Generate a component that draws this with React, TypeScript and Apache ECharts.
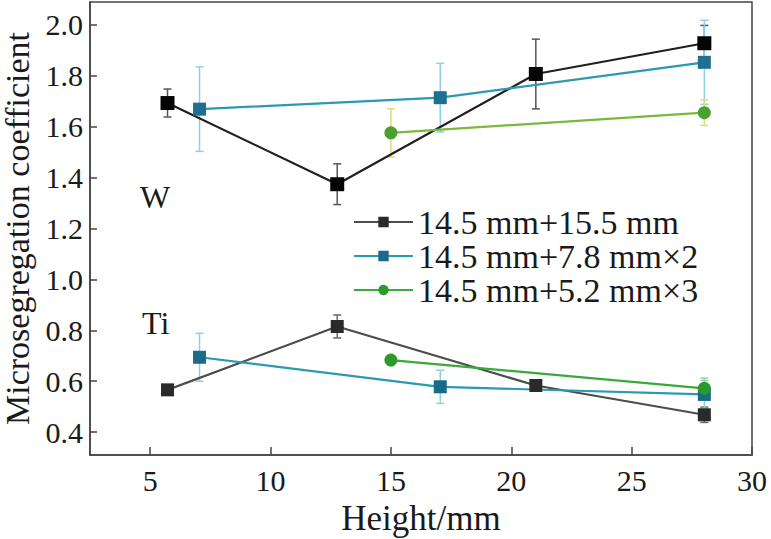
import React, { useEffect, useRef } from "react";
import * as echarts from "echarts";

const seriesNames = ["14.5 mm+15.5 mm", "14.5 mm+7.8 mm×2", "14.5 mm+5.2 mm×3"];

const xBlack = [5.72, 12.77, 21.02, 28.02];
const wBlack = [1.693, 1.374, 1.807, 1.928];
const wBlackErr = [0.055, 0.08, 0.137, 0.07];
const tiBlack = [0.566, 0.815, 0.583, 0.468];
const tiBlackErr = [0.02, 0.045, 0.015, 0.03];

const xBlue = [7.05, 17.05, 28.02];
const wBlue = [1.669, 1.714, 1.853];
const wBlueErr = [0.166, 0.135, 0.165];
const tiBlue = [0.694, 0.578, 0.548];
const tiBlueErr = [0.094, 0.065, 0.055];

const xGreen = [15.0, 28.02];
const wGreen = [1.576, 1.655];
const wGreenErr = [0.095, 0.05];
const tiGreen = [0.683, 0.572];
const tiGreenErr = [0.0, 0.04];

const FONT = "Liberation Serif";

function pts(xs: number[], ys: number[]) {
  return xs.map((x, i) => [x, ys[i]]);
}
function errs(xs: number[], ys: number[], es: number[]) {
  return xs.map((x, i) => [x, ys[i] - es[i], ys[i] + es[i]]);
}

function lineSeries(name: string, xs: number[], ys: number[], lineColor: string, markColor: string, symbol: string, size: number) {
  return {
    type: "line",
    name,
    data: pts(xs, ys),
    symbol,
    symbolSize: size,
    showAllSymbol: true,
    z: 5,
    lineStyle: { color: lineColor, width: 2.2 },
    itemStyle: { color: markColor, borderWidth: 0 },
  };
}

function errSeries(xs: number[], ys: number[], es: number[], color: string) {
  return {
    type: "custom",
    data: errs(xs, ys, es),
    z: 3,
    silent: true,
    renderItem: (params: any, api: any) => {
      const x = api.value(0);
      const lo = api.coord([x, api.value(1)]);
      const hi = api.coord([x, api.value(2)]);
      const cw = 4;
      const st = { stroke: color, lineWidth: 1.5 };
      return {
        type: "group",
        children: [
          { type: "line", shape: { x1: lo[0], y1: lo[1], x2: hi[0], y2: hi[1] }, style: st },
          { type: "line", shape: { x1: lo[0] - cw, y1: lo[1], x2: lo[0] + cw, y2: lo[1] }, style: st },
          { type: "line", shape: { x1: hi[0] - cw, y1: hi[1], x2: hi[0] + cw, y2: hi[1] }, style: st },
        ],
      };
    },
  };
}

export default function App() {
  const ref = useRef<HTMLDivElement>(null);
  useEffect(() => {
    const chart = echarts.init(ref.current!, null, { renderer: "svg" });
    const axisLineStyle = { color: "#444", width: 1.5 };
    chart.setOption({
      animation: false,
      backgroundColor: "#fff",
      textStyle: { fontFamily: FONT },
      grid: {
        left: 90,
        right: 19,
        top: 2,
        bottom: 84,
        outerBoundsMode: "none",
        containLabel: false,
        show: true,
        borderColor: "#444",
        borderWidth: 1.5,
        backgroundColor: "transparent",
      },
      legend: {
        orient: "vertical",
        left: 353,
        top: 205,
        padding: 0,
        itemGap: 0,
        itemWidth: 59,
        itemHeight: 13,
        data: seriesNames,
        textStyle: { fontFamily: FONT, fontSize: 34, lineHeight: 32, color: "#1a1a1a" },
      },
      xAxis: {
        type: "value",
        min: 2.5,
        max: 30,
        splitNumber: 5,
        name: "Height/mm",
        nameLocation: "middle",
        nameGap: 46,
        nameTextStyle: { fontFamily: FONT, fontSize: 35, color: "#1a1a1a" },
        axisLine: { show: true, lineStyle: axisLineStyle },
        axisTick: { show: true, inside: true, length: 8, lineStyle: axisLineStyle },
        splitLine: { show: false },
        axisLabel: {
          showMinLabel: false,
          margin: 10,
          fontFamily: FONT,
          fontSize: 30,
          color: "#1a1a1a",
        },
      },
      yAxis: {
        type: "value",
        min: 0.31,
        max: 2.09,
        splitNumber: 9,
        name: "Microsegregation coefficient",
        nameLocation: "middle",
        nameGap: 53,
        nameTextStyle: { fontFamily: FONT, fontSize: 34, lineHeight: 34, color: "#1a1a1a" },
        axisLine: { show: true, lineStyle: axisLineStyle },
        axisTick: { show: true, inside: true, length: 7, lineStyle: axisLineStyle },
        splitLine: { show: false },
        axisLabel: {
          showMinLabel: false,
          showMaxLabel: false,
          margin: 7,
          fontFamily: FONT,
          fontSize: 30,
          color: "#1a1a1a",
          formatter: (v: number) => v.toFixed(1),
        },
      },
      graphic: [
        { type: "text", x: 140, y: 197, style: { text: "W", font: `32px ${FONT}`, fill: "#1a1a1a", verticalAlign: "middle" } },
        { type: "text", x: 142, y: 323, style: { text: "Ti", font: `32px ${FONT}`, fill: "#1a1a1a", verticalAlign: "middle" } },
      ],
      series: [
        errSeries(xBlack, tiBlack, tiBlackErr, "#666"),
        errSeries(xBlue, tiBlue, tiBlueErr, "#8fd0e0"),
        errSeries(xGreen, tiGreen, tiGreenErr, "#9fd090"),
        errSeries(xBlack, wBlack, wBlackErr, "#555"),
        errSeries(xBlue, wBlue, wBlueErr, "#8fd0e0"),
        errSeries(xGreen, wGreen, wGreenErr, "#d8dc80"),
        lineSeries(seriesNames[0], xBlack, tiBlack, "#4d4d4d", "#2a2a2a", "rect", 13),
        lineSeries(seriesNames[1], xBlue, tiBlue, "#2a9ab0", "#1a6a8a", "rect", 13),
        lineSeries(seriesNames[2], xGreen, tiGreen, "#3aa83a", "#2a9a2a", "circle", 13),
        lineSeries(seriesNames[0], xBlack, wBlack, "#1f1f1f", "#050505", "rect", 14),
        lineSeries(seriesNames[1], xBlue, wBlue, "#2a9ab0", "#1f7090", "rect", 13),
        lineSeries(seriesNames[2], xGreen, wGreen, "#7ab83a", "#4aa030", "circle", 13),
      ],
    });
    return () => chart.dispose();
  }, []);
  return (
    <div
      ref={ref}
      style={{ position: "fixed", left: 0, top: 0, width: 771, height: 539 }}
    />
  );
}
